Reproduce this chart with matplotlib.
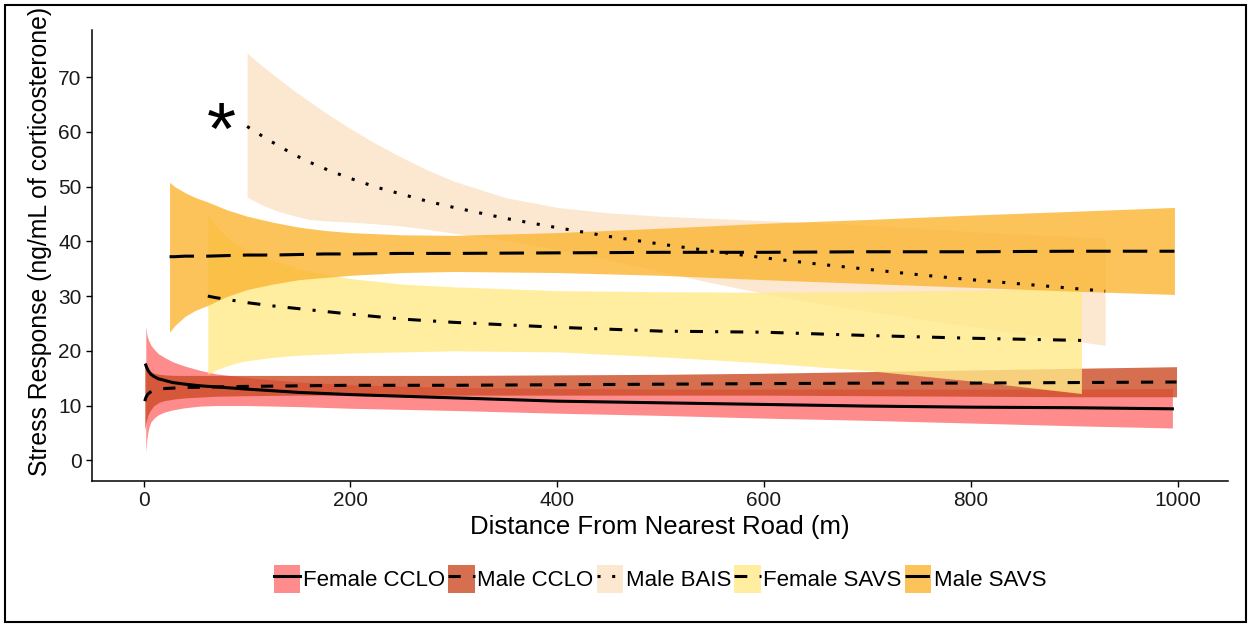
import matplotlib
matplotlib.use("Agg")
import matplotlib.pyplot as plt
from matplotlib.patches import Patch, Rectangle
from matplotlib.lines import Line2D

plt.rcParams["font.family"] = ["Liberation Sans", "DejaVu Sans"]

# values (distance in m, corticosterone in ng/mL)
fcclo_x = [2, 3, 4, 5, 7, 10, 14, 20, 28, 40, 55, 70, 100, 150, 200, 300, 400, 500, 600, 700, 800, 900, 995]
fcclo_fit = [17.4, 16.9, 16.5, 16.2, 15.7, 15.3, 14.9, 14.6, 14.2, 13.9, 13.6, 13.4, 13.0, 12.4, 12.0, 11.4, 10.8, 10.5, 10.2, 9.9, 9.7, 9.6, 9.4]
fcclo_hi = [24.5, 23.0, 22.3, 21.8, 21.0, 20.3, 19.5, 18.8, 18.0, 17.2, 16.4, 15.8, 15.1, 14.3, 13.8, 13.3, 13.1, 13.0, 13.0, 13.0, 13.0, 13.0, 13.1]
fcclo_lo = [1.5, 3.8, 5.1, 6.0, 7.0, 7.7, 8.3, 8.8, 9.2, 9.6, 9.9, 10.0, 10.0, 9.8, 9.5, 9.1, 8.6, 8.2, 7.7, 7.3, 6.8, 6.3, 5.9]

mcclo_x = [1, 2, 3, 4, 6, 10, 15, 20, 30, 40, 70, 100, 150, 200, 300, 400, 500, 600, 700, 800, 900, 999]
mcclo_fit = [10.8, 11.4, 11.8, 12.1, 12.4, 12.8, 13.0, 13.1, 13.2, 13.3, 13.4, 13.5, 13.6, 13.7, 13.7, 13.8, 13.9, 14.0, 14.1, 14.1, 14.2, 14.3]
mcclo_hi = [18.0, 17.4, 17.0, 16.6, 16.3, 15.9, 15.7, 15.6, 15.5, 15.5, 15.5, 15.5, 15.5, 15.5, 15.5, 15.6, 15.7, 15.9, 16.2, 16.5, 16.8, 17.1]
mcclo_lo = [5.5, 6.7, 7.5, 8.2, 9.0, 10.0, 10.6, 10.9, 11.2, 11.4, 11.7, 11.8, 11.9, 11.9, 11.9, 11.9, 11.9, 11.9, 11.8, 11.7, 11.6, 11.6]

mbais_x = [100, 115, 130, 145, 160, 180, 200, 225, 250, 275, 300, 350, 400, 450, 500, 550, 600, 650, 700, 750, 800, 850, 930]
mbais_fit = [61.0, 59.2, 57.5, 55.9, 54.5, 52.9, 51.5, 49.9, 48.6, 47.3, 46.2, 44.2, 42.5, 40.9, 39.5, 38.2, 37.0, 35.9, 34.9, 33.9, 33.0, 32.2, 30.9]
mbais_hi = [74.4, 72.0, 69.8, 67.6, 65.6, 63.0, 60.6, 57.8, 55.3, 53.0, 51.0, 48.0, 46.2, 45.2, 44.6, 44.2, 43.8, 43.4, 43.0, 42.4, 41.8, 41.3, 40.6]
mbais_lo = [48.1, 46.6, 45.5, 44.7, 44.0, 43.7, 43.5, 43.2, 42.8, 42.2, 41.5, 40.2, 38.5, 36.6, 34.5, 32.4, 30.5, 28.8, 27.3, 25.8, 24.5, 23.1, 21.0]

fsavs_x = [62, 70, 80, 90, 100, 125, 150, 175, 200, 250, 300, 400, 500, 600, 700, 800, 907]
fsavs_fit = [30.0, 29.7, 29.4, 29.1, 28.8, 28.2, 27.7, 27.2, 26.7, 25.8, 25.2, 24.3, 23.6, 23.4, 22.8, 22.3, 21.9]
fsavs_hi = [44.8, 42.8, 40.8, 39.5, 38.5, 36.5, 35.0, 34.0, 33.2, 32.2, 31.7, 31.0, 30.8, 30.7, 30.8, 31.1, 31.5]
fsavs_lo = [15.7, 16.5, 17.2, 17.8, 18.2, 18.8, 19.2, 19.4, 19.6, 19.8, 20.0, 19.8, 18.9, 17.8, 16.4, 14.5, 12.2]

msavs_x = [25, 30, 40, 50, 62, 80, 100, 125, 150, 175, 200, 250, 300, 400, 500, 600, 700, 800, 900, 997]
msavs_fit = [37.2, 37.2, 37.3, 37.3, 37.3, 37.4, 37.5, 37.5, 37.6, 37.7, 37.7, 37.8, 37.8, 37.9, 38.0, 38.0, 38.1, 38.1, 38.2, 38.2]
msavs_hi = [50.8, 50.0, 48.9, 48.0, 47.2, 45.8, 44.6, 43.5, 42.6, 42.0, 41.6, 41.2, 41.1, 41.6, 42.4, 43.3, 44.0, 44.8, 45.5, 46.2]
msavs_lo = [23.4, 24.6, 26.3, 27.4, 28.3, 29.9, 31.2, 32.2, 33.0, 33.4, 33.8, 34.3, 34.5, 34.3, 33.8, 33.0, 32.3, 31.6, 30.9, 30.3]

labels = ["Female CCLO", "Male CCLO", "Male BAIS", "Female SAVS", "Male SAVS"]
fills = ["#FF6F6F", "#CC4A24", "#FCE2C5", "#FFEA88", "#FBB531"]
styles = ["-", (0, (4, 4)), (0, (1, 3.8)), (0, (4.2, 4, 1, 4)), (0, (8, 4))]

series = [
    (fcclo_x, fcclo_fit, fcclo_lo, fcclo_hi),
    (mcclo_x, mcclo_fit, mcclo_lo, mcclo_hi),
    (mbais_x, mbais_fit, mbais_lo, mbais_hi),
    (fsavs_x, fsavs_fit, fsavs_lo, fsavs_hi),
    (msavs_x, msavs_fit, msavs_lo, msavs_hi),
]

fig = plt.figure(figsize=(12.52, 6.28), dpi=100)
ax = fig.add_axes([0.0735, 0.234, 0.9075, 0.718])

ALPHA = 0.8
LW = 2.2
for (x, fit, lo, hi), c in zip(series, fills):
    ax.fill_between(x, lo, hi, color=c, alpha=ALPHA, lw=0)
for (x, fit, lo, hi), ls in zip(series, styles):
    ax.plot(x, fit, color="black", lw=LW, ls=ls, dash_capstyle="butt")

ax.text(75, 59.5, "*", fontsize=54, ha="center", va="center")

ax.set_xlim(-50, 1049)
ax.set_ylim(-3.8, 78.6)
ax.set_xticks(range(0, 1001, 200))
ax.set_yticks(range(0, 71, 10))
ax.tick_params(labelsize=15, length=4, width=1, colors="black", labelcolor="#1a1a1a")
ax.spines[["top", "right"]].set_visible(False)
for s in ["left", "bottom"]:
    ax.spines[s].set_linewidth(1.1)
ax.set_xlabel("Distance From Nearest Road (m)", fontsize=18.5, labelpad=3)
fig.text(40 / 1252, 1 - 241 / 628, "Stress Response (ng/mL of corticosterone)",
         rotation=90, fontsize=17.8, ha="center", va="center")

handles = [(Patch(fc=c, alpha=ALPHA, lw=0),
            Line2D([], [], color="black", lw=LW, ls=ls, dash_capstyle="butt"))
           for c, ls in zip(fills, styles)]
fig.legend(handles, labels, loc="center", bbox_to_anchor=(660 / 1252, 1 - 579 / 628),
           ncol=5, frameon=False, fontsize=16, handlelength=1.2, handleheight=1.5,
           handletextpad=0.1, columnspacing=0.15, borderpad=0)

fig.add_artist(Rectangle((0.004, 0.0096), 0.991, 0.982, transform=fig.transFigure,
                         fill=False, lw=1.5, ec="black"))

fig.savefig("out.png", dpi=100)
plt.close(fig)
